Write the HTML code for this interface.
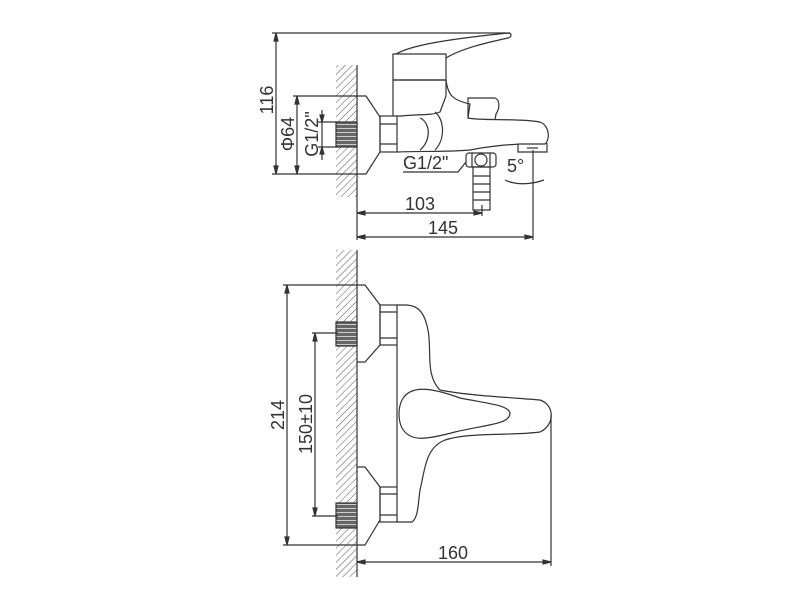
<!DOCTYPE html>
<html><head><meta charset="utf-8"><style>
html,body{margin:0;padding:0;background:#fff;}
svg{display:block;}
text{font-family:"Liberation Sans",sans-serif;fill:#333;font-size:18px;}
</style></head><body>
<svg width="800" height="600" viewBox="0 0 800 600" xmlns="http://www.w3.org/2000/svg">
<defs>
<pattern id="h" width="5" height="5" patternUnits="userSpaceOnUse" patternTransform="rotate(45)">
<line x1="0" y1="0" x2="0" y2="5" stroke="#555" stroke-width="1"/>
</pattern>
<pattern id="t" width="4" height="4" patternUnits="userSpaceOnUse">
<rect width="4" height="4" fill="#666"/><line x1="0" y1="0.5" x2="4" y2="0.5" stroke="#ccc" stroke-width="1"/>
</pattern>
</defs>
<g fill="none" stroke="#333" stroke-width="1.2">
<!-- TOP VIEW -->
<rect x="336" y="65" width="21" height="132" fill="url(#h)" stroke="none"/>
<line x1="357" y1="65" x2="357" y2="240"/>
<rect x="336" y="122" width="21" height="25" fill="url(#t)" stroke="#333"/>
<!-- 116 dim -->
<line x1="272" y1="33" x2="510" y2="33"/>
<line x1="272" y1="174" x2="357" y2="174"/>
<line x1="276" y1="33" x2="276" y2="174"/>
<path d="M276 33 l-2 8 h4z M276 174 l-2 -8 h4z" fill="#333"/>
<!-- phi64 -->
<line x1="293" y1="96" x2="357" y2="96"/>
<line x1="297" y1="96" x2="297" y2="174"/>
<path d="M297 96 l-2 8 h4z M297 174 l-2 -8 h4z" fill="#333"/>
<!-- G1/2 -->
<line x1="318" y1="122" x2="338" y2="122"/>
<line x1="318" y1="147" x2="338" y2="147"/>
<line x1="322" y1="110" x2="322" y2="160"/>
<path d="M322 122 l-2 -7 h4z M322 147 l-2 7 h4z" fill="#333"/>
<!-- flange & nut -->
<path d="M357 96 H366 L380 117 V152 L366 174 H357"/>
<rect x="380" y="116" width="17" height="36"/>
<line x1="380" y1="124" x2="397" y2="124"/><line x1="380" y1="144" x2="397" y2="144"/>
<!-- body -->
<path d="M397 116 H402 C415 114 430 116 440 112 L446 96 V80 H393 V116"/>
<path d="M393 54 H446 V80 H393Z"/>
<path d="M396 54 C410 46 440 40 508 33 C512 33 512 37 508 38 C490 42 462 48 446 58"/>
<path d="M446 80 C448 95 452 100 470 104 L468 118 C480 121 520 118 540 122 C550 126 550 140 545 144 H520 C505 145 490 146 470 150 C450 152 420 151 397 152"/>
<path d="M468 118 V98 H495 C500 100 500 108 496 114 L495 120"/>
<path d="M420 118 C430 122 432 140 420 150"/>
<path d="M435 112 C445 120 445 140 435 150"/>
<path d="M518 144 V152 H547 V143"/>
<line x1="527" y1="148" x2="538" y2="148"/>
<!-- outlet -->
<rect x="466" y="153" width="30" height="14" rx="3"/>
<circle cx="481" cy="160" r="6"/>
<line x1="472" y1="153" x2="472" y2="167"/><line x1="490" y1="153" x2="490" y2="167"/>
<rect x="473" y="167" width="17" height="43"/>
<line x1="473" y1="176" x2="490" y2="176"/><line x1="473" y1="184" x2="490" y2="184"/><line x1="473" y1="192" x2="490" y2="192"/><line x1="473" y1="200" x2="490" y2="200"/>
<path d="M403 172 H458 L466 162"/>
<!-- 5 deg -->
<line x1="533" y1="150" x2="533" y2="240"/>
<path d="M505 180 C515 185 530 185 544 180"/>
<!-- 103 / 145 -->
<line x1="482" y1="205" x2="482" y2="216"/>
<line x1="357" y1="213" x2="482" y2="213"/>
<path d="M357 213 l8 -2 v4z M482 213 l-8 -2 v4z" fill="#333"/>
<line x1="357" y1="237" x2="533" y2="237"/>
<path d="M357 237 l8 -2 v4z M533 237 l-8 -2 v4z" fill="#333"/>

<!-- BOTTOM VIEW -->
<rect x="336" y="250" width="21" height="327" fill="url(#h)" stroke="none"/>
<line x1="357" y1="250" x2="357" y2="577"/>
<rect x="336" y="322" width="21" height="24" fill="url(#t)" stroke="#333"/>
<rect x="336" y="503" width="21" height="25" fill="url(#t)" stroke="#333"/>
<!-- 214 -->
<line x1="283" y1="285" x2="357" y2="285"/>
<line x1="283" y1="545" x2="357" y2="545"/>
<line x1="287" y1="285" x2="287" y2="545"/>
<path d="M287 285 l-2 8 h4z M287 545 l-2 -8 h4z" fill="#333"/>
<!-- 150 -->
<line x1="312" y1="333" x2="338" y2="333"/>
<line x1="312" y1="516" x2="338" y2="516"/>
<line x1="315" y1="333" x2="315" y2="516"/>
<path d="M315 333 l-2 8 h4z M315 516 l-2 -8 h4z" fill="#333"/>
<!-- flanges & nuts -->
<path d="M357 285 H365 L380 305 V345 L365 362 H357"/>
<rect x="380" y="305" width="17" height="40"/>
<line x1="380" y1="312" x2="397" y2="312"/><line x1="380" y1="338" x2="397" y2="338"/>
<path d="M357 467 H365 L380 487 V520 L365 545 H357"/>
<rect x="380" y="487" width="17" height="35"/>
<line x1="380" y1="494" x2="397" y2="494"/><line x1="380" y1="515" x2="397" y2="515"/>
<line x1="397" y1="345" x2="397" y2="487"/>
<!-- body -->
<path d="M397 305 H405 C420 305 425 315 428 330 C432 350 425 375 440 390 C470 396 520 398 540 400 C555 405 555 425 540 432 C510 436 470 432 445 440 C425 448 425 470 420 490 C418 505 418 518 412 522 H397"/>
<path d="M402 400 C410 385 430 387 460 398 C490 404 508 405 510 413 C510 424 490 424 455 432 C425 440 410 442 402 428 C398 420 398 408 402 400Z"/>
<!-- 160 -->
<line x1="551" y1="415" x2="551" y2="566"/>
<line x1="357" y1="562" x2="551" y2="562"/>
<path d="M357 562 l8 -2 v4z M551 562 l-8 -2 v4z" fill="#333"/>
</g>
<!-- texts -->
<text transform="translate(273,100) rotate(-90)" text-anchor="middle">116</text>
<text transform="translate(294,134) rotate(-90)" text-anchor="middle">Φ64</text>
<text transform="translate(318,134) rotate(-90)" text-anchor="middle">G1/2"</text>
<text x="403" y="169">G1/2"</text>
<text x="507" y="172">5°</text>
<text x="420" y="210" text-anchor="middle">103</text>
<text x="443" y="234" text-anchor="middle">145</text>
<text transform="translate(284,415) rotate(-90)" text-anchor="middle">214</text>
<text transform="translate(312,424) rotate(-90)" text-anchor="middle">150±10</text>
<text x="453" y="559" text-anchor="middle">160</text>
</svg>
</body></html>
